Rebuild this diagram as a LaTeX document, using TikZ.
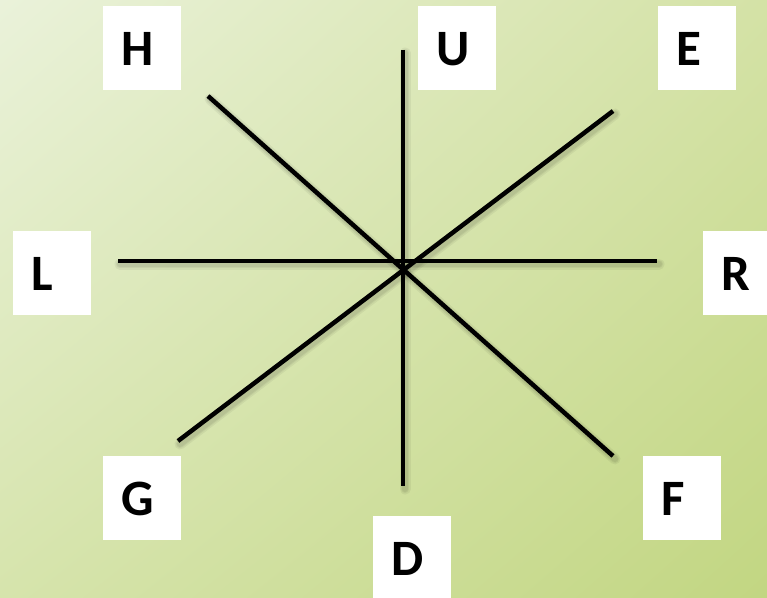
\documentclass[tikz,border=0pt]{standalone}
\usepackage{fontspec}
\usetikzlibrary{shadings}
\setmainfont{Carlito}
\definecolor{bgul}{RGB}{234,242,218}
\definecolor{bgur}{RGB}{212,226,166}
\definecolor{bgll}{RGB}{214,228,172}
\definecolor{bglr}{RGB}{194,214,130}
\begin{document}
\begin{tikzpicture}[x=1pt,y=-1pt,
  box/.style={fill=white, draw=none, anchor=north west, minimum width=78pt, minimum height=84pt,
    text width=42pt, inner xsep=18pt, inner ysep=0pt, align=left,
    text height=35pt, text depth=0pt, font=\fontsize{51}{51}\selectfont\bfseries},
  spoke/.style={line width=4.5pt, black},
  shadow/.style={line width=#1, black, opacity=0.05, line cap=round}]
\useasboundingbox (0,0) rectangle (767,597);
\clip (0,0) rectangle (767,597);
\shade[upper left=bgul, upper right=bgur, lower left=bgll, lower right=bglr]
  (0,0) rectangle (767,597);
% label boxes
\node[box] (H) at (103,6) {H};
\node[box] (U) at (418,6) {U};
\node[box] (E) at (658,6) {E};
\node[box] (L) at (13,231) {L};
\node[box] (R) at (703,231) {R};
\node[box] (G) at (103,456) {G};
\node[box] (F) at (643,456) {F};
\node[box] (D) at (373,516) {D};
% spoke ends
\coordinate (u) at (403,50);
\coordinate (d) at (403,486);
\coordinate (l) at (118,261);
\coordinate (r) at (657,261);
\coordinate (h) at (208,96);
\coordinate (f) at (613,456);
\coordinate (e) at (613,111);
\coordinate (g) at (178,441);
% soft shadows
\foreach \w in {11pt,8pt,6pt}{
  \draw[shadow=\w] ([shift={(2,3)}]u) -- ([shift={(2,3)}]d);
  \draw[shadow=\w] ([shift={(2,3)}]l) -- ([shift={(2,3)}]r);
  \draw[shadow=\w] ([shift={(2,3)}]h) -- ([shift={(2,3)}]f);
  \draw[shadow=\w] ([shift={(2,3)}]e) -- ([shift={(2,3)}]g);
}
% spokes
\draw[spoke] (u) -- (d);
\draw[spoke] (l) -- (r);
\draw[spoke] (h) -- (f);
\draw[spoke] (e) -- (g);
\end{tikzpicture}
\end{document}
